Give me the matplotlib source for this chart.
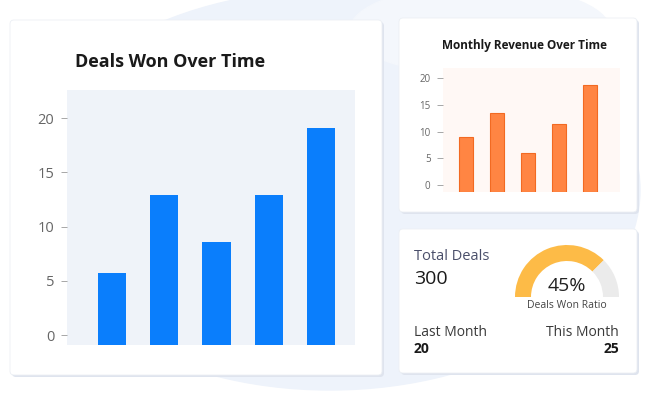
import matplotlib
matplotlib.use("Agg")
import matplotlib.pyplot as plt
from matplotlib.patches import FancyBboxPatch, Ellipse, Wedge

deals_months = ["M1", "M2", "M3", "M4", "M5"]
deals_won = [5.7, 12.9, 8.6, 12.9, 19.1]
revenue_months = ["M1", "M2", "M3", "M4", "M5"]
revenue = [9.0, 13.5, 6.0, 11.4, 18.7]
yticks = [0, 5, 10, 15, 20]
total_deals = "300"
last_month = "20"
this_month = "25"
ratio_label = "45%"
gauge_fill = 0.75  # visible share of the arc that is filled

FONT = "Open Sans"
fig = plt.figure(figsize=(6.48, 4.0), dpi=100)
bg = fig.add_axes([0, 0, 1, 1])
bg.set_xlim(0, 648); bg.set_ylim(400, 0); bg.axis("off")

bg.add_patch(Ellipse((330, 190), 620, 400, color="#eef3fb", zorder=0))
bg.add_patch(Ellipse((480, 30), 260, 90, color="#f4f7fc", zorder=0))

def card(x0, y0, x1, y1):
    bg.add_patch(FancyBboxPatch((x0 + 2, y0 + 2), x1 - x0, y1 - y0,
                 boxstyle="round,pad=0,rounding_size=4", fc="#dfe4ee", ec="none", zorder=1))
    bg.add_patch(FancyBboxPatch((x0, y0), x1 - x0, y1 - y0,
                 boxstyle="round,pad=0,rounding_size=4", fc="white", ec="#eceff4", lw=0.6, zorder=2))

card(10, 20, 382, 375)
card(399, 18, 637, 212)
card(399, 229, 637, 373)

bg.text(75, 62, "Deals Won Over Time", fontsize=13, fontweight="bold", family=FONT,
        color="#1a1a1a", va="center", zorder=3)
bg.text(524, 46, "Monthly Revenue Over Time", fontsize=8.5, fontweight="bold", family=FONT,
        color="#1a1a1a", ha="center", va="center", zorder=3)

# gauge card
bg.text(414, 256, "Total Deals", fontsize=10.5, family=FONT, color="#4a4f6a", va="center", zorder=3)
bg.text(414, 279, total_deals, fontsize=14, family=FONT, color="#1a1a1a", va="center", zorder=3)
bg.text(414, 333, "Last Month", fontsize=10, family=FONT, color="#3a3a3a", va="center", zorder=3)
bg.text(414, 349, last_month, fontsize=10, fontweight="bold", family=FONT, color="#1a1a1a", va="center", zorder=3)
bg.text(619, 333, "This Month", fontsize=10, family=FONT, color="#3a3a3a", va="center", ha="right", zorder=3)
bg.text(619, 349, this_month, fontsize=10, fontweight="bold", family=FONT, color="#1a1a1a", va="center", ha="right", zorder=3)

cx, cy, r_out, w = 567, 297, 52, 16
split = 180 - 180 * gauge_fill
bg.add_patch(Wedge((cx, cy), r_out, -180, -split, width=w, fc="#fdbb47", ec="none", zorder=3))
bg.add_patch(Wedge((cx, cy), r_out, -split, 0, width=w, fc="#ebebeb", ec="none", zorder=3))
bg.text(cx, cy - 11, ratio_label, fontsize=14, family=FONT, color="#222", ha="center", va="center", zorder=4)
bg.text(cx, cy + 8, "Deals Won Ratio", fontsize=7.5, family=FONT, color="#444", ha="center", va="center", zorder=4)

def chart(rect, vals, color, xlim, ylim, width, facecolor, fs, edge=None):
    ax = fig.add_axes(rect)
    ax.set_facecolor(facecolor)
    base = ylim[0]
    ax.bar(range(len(vals)), [v - base for v in vals], bottom=base, width=width, color=color,
           edgecolor=edge, linewidth=0.8 if edge else 0, zorder=2)
    ax.set_xlim(*xlim); ax.set_ylim(*ylim)
    ax.set_xticks([])
    ax.set_yticks(yticks)
    ax.tick_params(axis="y", length=4, width=0.6, color="#999999", labelcolor="#666666",
                   labelsize=fs, pad=5)
    for t in ax.get_yticklabels():
        t.set_family(FONT)
    for s in ax.spines.values():
        s.set_visible(False)
    return ax

chart([67 / 648, 1 - 345 / 400, 288 / 648, 255 / 400], deals_won, "#0a7efc",
      (-0.86, 4.65), (-0.92, 22.6), 0.54, "#eff3f9", 10.5)
chart([443 / 648, 1 - 192 / 400, 177 / 648, 124 / 400], revenue, "#ff8543",
      (-0.74, 4.97), (-1.3, 21.9), 0.45, "#fff8f5", 7, edge="#f26a22")

fig.savefig("out.png", dpi=100)
